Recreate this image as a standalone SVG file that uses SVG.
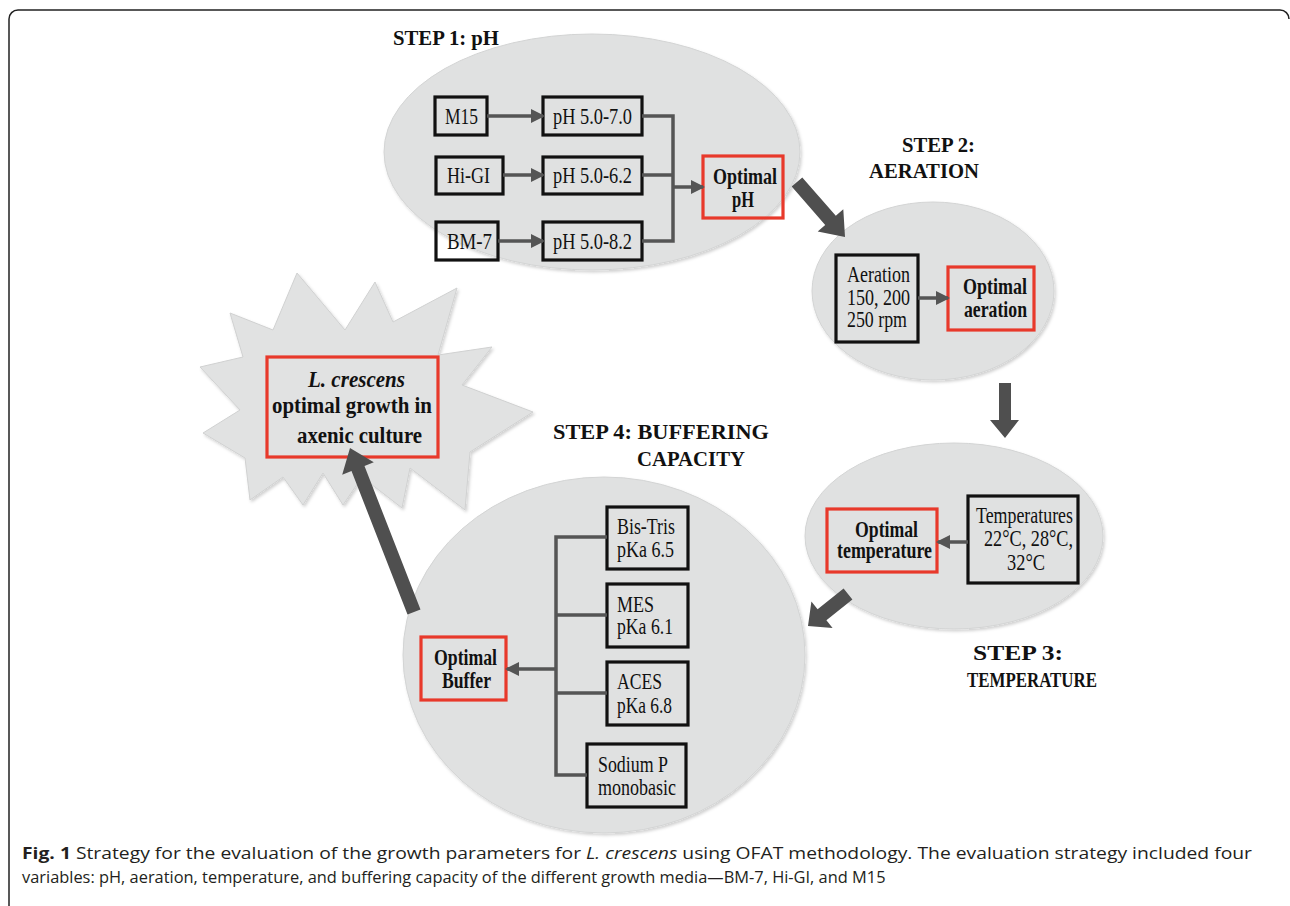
<svg xmlns="http://www.w3.org/2000/svg" width="1290" height="906" viewBox="0 0 1290 906">
<defs>
<style>
.ell{fill:#e0e1e1;stroke:#d3d4d4;stroke-width:1;filter:url(#sh)}
.star{fill:#e1e2e2;stroke:#d0d1d1;stroke-width:1;filter:url(#sh)}
.box{fill:none;stroke:#111;stroke-width:3.2}
.red{fill:none;stroke:#e8392b;stroke-width:3.2}
.t{font-family:"Liberation Serif","Times New Roman",serif;font-size:24px;fill:#111}
.b{font-family:"Liberation Serif","Times New Roman",serif;font-size:23px;font-weight:bold;fill:#111}
.bi{font-family:"Liberation Serif","Times New Roman",serif;font-size:23px;font-weight:bold;font-style:italic;fill:#111}
.lbl{font-family:"Liberation Serif","Times New Roman",serif;font-size:22px;font-weight:bold;fill:#111}
.con{fill:none;stroke:#555;stroke-width:3.5}
.big{fill:#4f4f4f}
.cap{font-family:"Open Sans",sans-serif;font-size:16.4px;fill:#231f20}
.frame{fill:none;stroke:#222;stroke-width:1.5}
</style>
<filter id="sh" x="-5%" y="-5%" width="112%" height="112%"><feDropShadow dx="1.5" dy="2" stdDeviation="1.8" flood-color="#000" flood-opacity="0.18"/></filter>
<marker id="ah" markerUnits="userSpaceOnUse" markerWidth="14" markerHeight="16" refX="12" refY="8" orient="auto"><path d="M0,1 L14,8 L0,15 z" fill="#555"/></marker>
</defs>
<path class="frame" d="M9,906 V19 A9,9 0 0 1 18,10 H1280 A9,9 0 0 1 1289,19"/>

<g id="step1">
<ellipse class="ell" cx="592" cy="152" rx="208" ry="118"/>
<text class="lbl" x="393" y="45" textLength="106" lengthAdjust="spacingAndGlyphs">STEP 1: pH</text>
<rect class="box" x="435" y="97" width="52" height="38"/>
<text class="t" x="445" y="124" textLength="33" lengthAdjust="spacingAndGlyphs">M15</text>
<rect class="box" x="543" y="97" width="99" height="38"/>
<text class="t" x="553" y="124" textLength="79" lengthAdjust="spacingAndGlyphs">pH 5.0-7.0</text>
<rect class="box" x="436" y="157" width="67" height="37"/>
<text class="t" x="447" y="183" textLength="43" lengthAdjust="spacingAndGlyphs">Hi-GI</text>
<rect class="box" x="543" y="157" width="99" height="37"/>
<text class="t" x="553" y="183" textLength="79" lengthAdjust="spacingAndGlyphs">pH 5.0-6.2</text>
<rect class="box" x="436" y="222" width="62" height="38"/>
<text class="t" x="447" y="249" textLength="45" lengthAdjust="spacingAndGlyphs">BM-7</text>
<rect class="box" x="543" y="222" width="99" height="38"/>
<text class="t" x="553" y="249" textLength="79" lengthAdjust="spacingAndGlyphs">pH 5.0-8.2</text>
<rect class="red" x="703" y="156" width="80" height="62"/>
<text class="b" x="713" y="184" textLength="64" lengthAdjust="spacingAndGlyphs">Optimal</text>
<text class="b" x="732" y="207" textLength="22" lengthAdjust="spacingAndGlyphs">pH</text>
</g>

<g id="step2">
<ellipse class="ell" cx="933" cy="291" rx="121" ry="89"/>
<text class="lbl" x="902" y="152" textLength="73" lengthAdjust="spacingAndGlyphs">STEP 2:</text>
<text class="lbl" x="869" y="178" textLength="110" lengthAdjust="spacingAndGlyphs">AERATION</text>
<rect class="box" x="836" y="255" width="82" height="87"/>
<text class="t" x="847" y="282" textLength="63" lengthAdjust="spacingAndGlyphs">Aeration</text>
<text class="t" x="847" y="305" textLength="63" lengthAdjust="spacingAndGlyphs">150, 200</text>
<text class="t" x="847" y="327" textLength="60" lengthAdjust="spacingAndGlyphs">250 rpm</text>
<rect class="red" x="948" y="267" width="86" height="63"/>
<text class="b" x="963" y="294" textLength="64" lengthAdjust="spacingAndGlyphs">Optimal</text>
<text class="b" x="964" y="317" textLength="63" lengthAdjust="spacingAndGlyphs">aeration</text>
</g>

<g id="step3">
<ellipse class="ell" cx="954" cy="536" rx="149" ry="93"/>
<rect class="box" x="968" y="496" width="110" height="87"/>
<text class="t" x="976" y="523" textLength="97" lengthAdjust="spacingAndGlyphs">Temperatures</text>
<text class="t" x="984" y="546" textLength="89" lengthAdjust="spacingAndGlyphs">22°C, 28°C,</text>
<text class="t" x="1007" y="570" textLength="38" lengthAdjust="spacingAndGlyphs">32°C</text>
<rect class="red" x="827" y="509" width="110" height="63"/>
<text class="b" x="855" y="537" textLength="63" lengthAdjust="spacingAndGlyphs">Optimal</text>
<text class="b" x="837" y="558" textLength="95" lengthAdjust="spacingAndGlyphs">temperature</text>
<text class="lbl" x="973" y="660" textLength="90" lengthAdjust="spacingAndGlyphs">STEP 3:</text>
<text class="lbl" x="967" y="687" textLength="130" lengthAdjust="spacingAndGlyphs">TEMPERATURE</text>
</g>

<g id="step4">
<ellipse class="ell" cx="604" cy="655" rx="201" ry="178"/>
<text class="lbl" x="553" y="439" textLength="216" lengthAdjust="spacingAndGlyphs">STEP 4: BUFFERING</text>
<text class="lbl" x="637" y="466" textLength="108" lengthAdjust="spacingAndGlyphs">CAPACITY</text>
<rect class="box" x="607" y="507" width="81" height="62"/>
<text class="t" x="617" y="534" textLength="58" lengthAdjust="spacingAndGlyphs">Bis-Tris</text>
<text class="t" x="617" y="557" textLength="57" lengthAdjust="spacingAndGlyphs">pKa 6.5</text>
<rect class="box" x="607" y="584" width="81" height="63"/>
<text class="t" x="617" y="612" textLength="37" lengthAdjust="spacingAndGlyphs">MES</text>
<text class="t" x="617" y="634" textLength="56" lengthAdjust="spacingAndGlyphs">pKa 6.1</text>
<rect class="box" x="607" y="662" width="81" height="63"/>
<text class="t" x="617" y="689" textLength="45" lengthAdjust="spacingAndGlyphs">ACES</text>
<text class="t" x="617" y="713" textLength="55" lengthAdjust="spacingAndGlyphs">pKa 6.8</text>
<rect class="box" x="587" y="744" width="99" height="63"/>
<text class="t" x="598" y="772" textLength="70" lengthAdjust="spacingAndGlyphs">Sodium P</text>
<text class="t" x="598" y="795" textLength="78" lengthAdjust="spacingAndGlyphs">monobasic</text>
<rect class="red" x="421" y="637" width="85" height="63"/>
<text class="b" x="434" y="665" textLength="63" lengthAdjust="spacingAndGlyphs">Optimal</text>
<text class="b" x="442" y="688" textLength="49" lengthAdjust="spacingAndGlyphs">Buffer</text>
</g>

<g id="goal">
<polygon class="star" points="230,313 273,330 297,273 345,330 375,282 393,322 457,288 438,355 492,347 462,385 533,412 470,452 465,510 410,468 402,508 362,477 343,505 323,473 303,505 283,477 250,500 245,458 203,433 240,410 200,367 243,357"/>
<rect class="red" x="267" y="357" width="171" height="100"/>
<text class="bi" x="308" y="387" textLength="97" lengthAdjust="spacingAndGlyphs">L. crescens</text>
<text class="b" x="272" y="413" textLength="160" lengthAdjust="spacingAndGlyphs">optimal growth in</text>
<text class="b" x="297" y="443" textLength="125" lengthAdjust="spacingAndGlyphs">axenic culture</text>
</g>

<g id="connectors">
<line class="con" x1="487" y1="116" x2="543" y2="116" marker-end="url(#ah)"/>
<line class="con" x1="503" y1="175" x2="543" y2="175" marker-end="url(#ah)"/>
<line class="con" x1="498" y1="241" x2="543" y2="241" marker-end="url(#ah)"/>
<polyline class="con" points="642,116 673,116 673,241 642,241"/>
<line class="con" x1="642" y1="175" x2="673" y2="175"/>
<line class="con" x1="673" y1="187" x2="703" y2="187" marker-end="url(#ah)"/>
<line class="con" x1="918" y1="298" x2="948" y2="298" marker-end="url(#ah)"/>
<line class="con" x1="968" y1="542" x2="938" y2="542" marker-end="url(#ah)"/>
<polyline class="con" points="607,537 556,537 556,775 587,775"/>
<line class="con" x1="556" y1="615" x2="607" y2="615"/>
<line class="con" x1="556" y1="693" x2="607" y2="693"/>
<line class="con" x1="556" y1="669" x2="507" y2="669" stroke-width="5" marker-end="url(#ah)"/>
<polygon class="big" points="791.7,186.6 825.2,225 817.7,231.6 845,237 843.3,209.2 835.8,215.8 802.3,177.4"/>
<polygon class="big" points="999,383 1011,383 1011,420 1019,420 1005,438 990,420 999,420"/>
<polygon class="big" points="843.6,588.5 817.6,609.3 811.4,601.5 808,626 832.6,628 826.4,620.2 852.4,599.5"/>
<polygon class="big" points="420.5,609.5 364.5,466 373.8,462.3 350,448 342.2,474.7 351.5,471 407.5,614.5"/>
</g>

<text class="cap" x="22" y="859" textLength="1230" lengthAdjust="spacingAndGlyphs"><tspan font-weight="bold">Fig. 1</tspan> Strategy for the evaluation of the growth parameters for <tspan font-style="italic">L. crescens</tspan> using OFAT methodology. The evaluation strategy included four</text>
<text class="cap" x="22" y="883">variables: pH, aeration, temperature, and buffering capacity of the different growth media—BM-7, Hi-GI, and M15</text>
</svg>
